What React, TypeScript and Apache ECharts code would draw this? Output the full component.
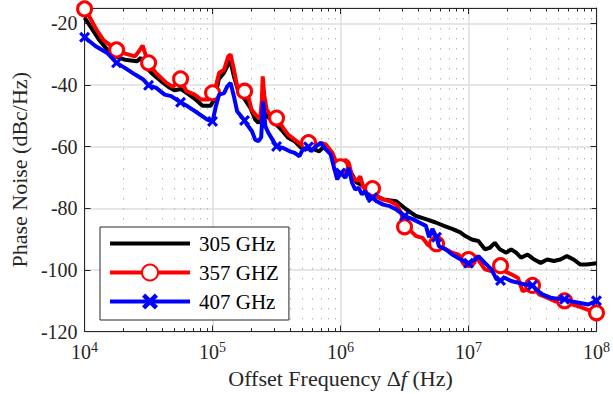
import React, { useEffect, useRef } from "react";
import * as echarts from "echarts";

// [log10(offset frequency / Hz), phase noise dBc/Hz]
const trace305: [number, number][] = [
  [4.0, -18.1], [4.113, -25.3], [4.177, -28.5], [4.241, -30.7], [4.318, -31.8], [4.408, -32.3],
  [4.441, -31.2], [4.485, -34.5], [4.536, -36.6], [4.6, -38.8], [4.656, -40.6], [4.702, -41.7],
  [4.754, -41.3], [4.805, -42.8], [4.869, -44.7], [4.921, -46.7], [4.985, -46.7], [5.015, -44.5],
  [5.05, -38], [5.09, -36], [5.128, -32.8], [5.14, -32.3], [5.167, -37.2], [5.205, -42.6],
  [5.244, -44.2], [5.295, -47.4], [5.333, -51.2], [5.359, -52.3], [5.381, -51], [5.395, -42],
  [5.408, -48], [5.423, -50.1], [5.475, -51.8], [5.538, -54.5], [5.59, -57.1], [5.641, -58.2],
  [5.692, -60.4], [5.744, -59.9], [5.795, -60.9], [5.833, -61.5], [5.872, -59.9], [5.91, -61.5],
  [5.948, -64.2], [6.0, -67], [6.038, -66], [6.077, -68], [6.123, -71.5], [6.169, -72.5],
  [6.215, -74.5], [6.256, -75.5], [6.333, -77.1], [6.436, -77.7], [6.513, -80.3], [6.59, -82.5],
  [6.667, -83.5], [6.744, -84.6], [6.808, -85.7], [6.872, -86.7], [6.936, -87.8], [6.975, -89],
  [7.026, -90.1], [7.077, -90.6], [7.128, -93.3], [7.167, -92.8], [7.205, -91.2], [7.244, -93.3],
  [7.295, -94.4], [7.333, -93.3], [7.372, -94.4], [7.41, -96], [7.462, -95], [7.513, -96.6],
  [7.564, -97.7], [7.615, -96.6], [7.667, -97.1], [7.718, -96.6], [7.769, -95.5], [7.821, -96.6],
  [7.872, -98.2], [7.923, -98.2], [8.0, -97.8],
];

const trace357: [number, number][] = [
  [4.0, -15.3], [4.04, -18], [4.1, -22.5], [4.15, -25.5], [4.25, -28.6], [4.318, -29.8],
  [4.395, -30.7], [4.433, -28.5], [4.454, -27.2], [4.472, -29.6], [4.5, -32.8], [4.56, -36.2],
  [4.64, -39.3], [4.69, -40.6], [4.75, -38], [4.795, -42], [4.86, -43.1], [4.91, -44.7],
  [4.97, -44.7], [5.0, -42.5], [5.026, -40.4], [5.051, -36.1], [5.09, -35], [5.123, -30.7],
  [5.141, -30.1], [5.167, -35], [5.192, -40.4], [5.25, -42], [5.279, -43.7], [5.305, -48],
  [5.346, -50.1], [5.372, -50.7], [5.385, -45], [5.392, -37.2], [5.405, -43.7], [5.423, -48],
  [5.449, -49.6], [5.5, -50.7], [5.552, -53.9], [5.59, -56.1], [5.641, -57.7], [5.692, -59.3],
  [5.75, -58.7], [5.795, -59.9], [5.846, -58.8], [5.885, -59.3], [5.936, -62], [5.974, -65.8],
  [6.0, -66.5], [6.038, -64.2], [6.064, -65.2], [6.09, -69.6], [6.128, -71.2], [6.154, -69.6],
  [6.179, -73.3], [6.218, -73.9], [6.25, -73.6], [6.282, -76.1], [6.333, -77.1], [6.385, -77.7],
  [6.436, -78.8], [6.474, -81.5], [6.5, -86], [6.538, -86.9], [6.59, -89], [6.641, -89.6],
  [6.679, -91.7], [6.718, -92.8], [6.75, -91.5], [6.782, -92.3], [6.821, -93.3], [6.872, -94.4],
  [6.923, -95], [6.962, -97.7], [7.0, -96.6], [7.051, -95.5], [7.09, -97.5], [7.128, -99.8],
  [7.179, -100.4], [7.25, -98.6], [7.282, -100.4], [7.333, -101.4], [7.385, -102.5], [7.423, -106.9],
  [7.462, -106.3], [7.5, -105], [7.551, -107.9], [7.615, -109], [7.679, -110.2], [7.75, -110],
  [7.795, -111], [7.872, -112], [7.923, -112.8], [8.0, -113.9],
];

const trace407: [number, number][] = [
  [4.0, -24.5], [4.087, -27.4], [4.177, -29.6], [4.25, -32.8], [4.318, -34.5], [4.395, -36.6],
  [4.459, -38.2], [4.5, -40.1], [4.56, -40.9], [4.626, -43.1], [4.677, -43.6], [4.75, -45.6],
  [4.805, -46.9], [4.882, -49], [4.959, -51.2], [5.0, -51.8], [5.026, -46.9], [5.051, -43.1],
  [5.09, -42.6], [5.115, -40.4], [5.141, -39.3], [5.167, -43.7], [5.192, -48.5], [5.25, -51.5],
  [5.269, -52.8], [5.308, -55], [5.333, -57.7], [5.359, -58.2], [5.38, -57], [5.395, -45.3],
  [5.413, -53.4], [5.436, -55.5], [5.475, -58.2], [5.5, -59.9], [5.551, -60.4], [5.603, -61.5],
  [5.641, -62], [5.679, -63.1], [5.705, -60.9], [5.75, -60], [5.769, -61.5], [5.808, -59.9],
  [5.846, -58.8], [5.885, -60.9], [5.923, -62.5], [5.946, -66.3], [5.974, -70.6], [6.0, -68.5],
  [6.038, -70.1], [6.064, -66.9], [6.09, -71.7], [6.115, -73.9], [6.141, -73.3], [6.167, -75.5],
  [6.192, -74.4], [6.218, -77.1], [6.25, -76.6], [6.282, -77.7], [6.333, -78.8], [6.385, -79.3],
  [6.436, -80.4], [6.487, -82], [6.5, -82.5], [6.564, -83.5], [6.615, -84.6], [6.667, -85.7],
  [6.692, -89.4], [6.718, -86.7], [6.75, -89.4], [6.769, -92.3], [6.821, -93.3], [6.872, -95],
  [6.923, -96.2], [6.962, -97.1], [7.0, -97.8], [7.051, -96.6], [7.077, -95.5], [7.128, -97.7],
  [7.179, -99.8], [7.218, -103], [7.25, -103.4], [7.282, -102.5], [7.333, -103.6], [7.385, -104.1],
  [7.436, -104.7], [7.5, -105], [7.526, -106.3], [7.577, -107.9], [7.641, -109], [7.692, -109.3],
  [7.75, -109.5], [7.808, -110.2], [7.872, -110.7], [7.936, -111.2], [8.0, -110],
];

const seriesNames = ["305 GHz", "357 GHZ", "407 GHz"];
const minorFreqs = [
  2e4, 3e4, 4e4, 5e4, 6e4, 7e4, 8e4, 9e4,
  2e5, 3e5, 4e5, 5e5, 6e5, 7e5, 8e5, 9e5,
  2e6, 3e6, 4e6, 5e6, 6e6, 7e6, 8e6, 9e6,
  2e7, 3e7, 4e7, 5e7, 6e7, 7e7, 8e7, 9e7,
];

const FONT = "'Liberation Serif', 'Times New Roman', serif";
const TXT = "#262626";
const CROSS =
  "path://M0,2 L2,0 L5,3 L8,0 L10,2 L7,5 L10,8 L8,10 L5,7 L2,10 L0,8 L3,5 Z";

const isMarker = (lf: number) => Math.abs(lf * 4 - Math.round(lf * 4)) < 1e-6;

function toData(trace: [number, number][], withMarkers: boolean) {
  return trace.map(([lf, v]) => {
    const item: any = { value: [Math.pow(10, lf), v] };
    if (!withMarkers || !isMarker(lf)) item.symbol = "none";
    return item;
  });
}

export default function App() {
  const ref = useRef<HTMLDivElement>(null);
  useEffect(() => {
    if (!ref.current) return;
    const chart = echarts.init(ref.current, null, { renderer: "svg" });
    const xAxisCommon: any = {
      type: "log",
      logBase: 10,
      min: 1e4,
      max: 1e8,
      axisLine: { show: true, onZero: false, lineStyle: { color: TXT, width: 1 } },
      axisTick: { show: true, inside: true, length: 6, lineStyle: { color: TXT } },
      minorTick: { show: false },
    };
    const yAxisCommon: any = {
      type: "value",
      min: -120,
      max: -15,
      interval: 20,
      axisLine: { show: true, onZero: false, lineStyle: { color: TXT, width: 1 } },
      axisTick: { show: true, inside: true, length: 6, lineStyle: { color: TXT } },
    };
    chart.setOption({
      animation: false,
      backgroundColor: "#fff",
      grid: { left: 80, right: 13, top: 8, bottom: 62, containLabel: false },
      xAxis: [
        {
          ...xAxisCommon,
          position: "bottom",
          name: "Offset Frequency Δ{i|f} (Hz)",
          nameLocation: "middle",
          nameGap: 33,
          nameTextStyle: {
            fontFamily: FONT,
            fontSize: 22,
            color: TXT,
            rich: { i: { fontFamily: FONT, fontSize: 22, fontStyle: "italic", color: TXT } },
          },
          splitLine: { show: true, lineStyle: { color: "#dedede", width: 1.5 } },
          axisLabel: {
            margin: 9,
            formatter: (v: number) => `{a|10}{b|${Math.round(Math.log10(v))}}`,
            rich: {
              a: { fontFamily: FONT, fontSize: 20, color: TXT },
              b: { fontFamily: FONT, fontSize: 14, color: TXT, padding: [0, 0, 9, 0] },
            },
          },
        },
        {
          ...xAxisCommon,
          position: "top",
          axisLabel: { show: false },
          splitLine: { show: false },
        },
      ],
      yAxis: [
        {
          ...yAxisCommon,
          position: "left",
          name: "Phase Noise (dBc/Hz)",
          nameLocation: "middle",
          nameGap: 48,
          nameTextStyle: { fontFamily: FONT, fontSize: 22, color: TXT },
          splitLine: { show: true, lineStyle: { color: "#dedede", width: 1.5 } },
          axisLabel: {
            fontFamily: FONT,
            fontSize: 20,
            color: TXT,
            margin: 7,
            showMaxLabel: false,
          },
        },
        {
          ...yAxisCommon,
          position: "right",
          axisLabel: { show: false },
          splitLine: { show: false },
        },
      ],
      legend: {
        orient: "vertical",
        left: 100,
        top: 227,
        padding: [6, 10, 8, 8],
        itemWidth: 80,
        itemHeight: 20,
        itemGap: 8,
        backgroundColor: "#fff",
        borderColor: TXT,
        borderWidth: 1,
        borderRadius: 0,
        lineStyle: { width: 4 },
        textStyle: { fontFamily: FONT, fontSize: 21, color: "#000", padding: [0, 0, 0, 4] },
        data: [
          { name: seriesNames[0], itemStyle: { opacity: 0 } },
          { name: seriesNames[1] },
          { name: seriesNames[2] },
        ],
      },
      series: [
        {
          type: "custom",
          name: "minor grid",
          xAxisIndex: 0,
          yAxisIndex: 0,
          silent: true,
          z: 1,
          data: minorFreqs.map((f) => [f, -120]),
          encode: { x: 0, y: 1 },
          renderItem: (params: any, api: any) => {
            const cs = params.coordSys;
            const x = Math.round(api.coord([api.value(0), api.value(1)])[0]) + 0.5;
            const top = cs.y;
            const bottom = cs.y + cs.height;
            return {
              type: "group",
              children: [
                {
                  type: "line",
                  shape: { x1: x, y1: top, x2: x, y2: bottom },
                  style: { stroke: "#b8b8b8", lineWidth: 1, lineDash: [1.5, 8.5] },
                },
                {
                  type: "line",
                  shape: { x1: x, y1: bottom, x2: x, y2: bottom - 3.5 },
                  style: { stroke: TXT, lineWidth: 1 },
                },
                {
                  type: "line",
                  shape: { x1: x, y1: top, x2: x, y2: top + 3.5 },
                  style: { stroke: TXT, lineWidth: 1 },
                },
              ],
            };
          },
        },
        {
          type: "line",
          name: seriesNames[0],
          data: toData(trace305, false),
          symbol: "none",
          showSymbol: false,
          lineStyle: { color: "#000", width: 4 },
          itemStyle: { color: "#000" },
          z: 3,
        },
        {
          type: "line",
          name: seriesNames[1],
          data: toData(trace357, true),
          symbol: "circle",
          symbolSize: 14,
          showSymbol: true,
          showAllSymbol: true,
          lineStyle: { color: "#ff0000", width: 4 },
          itemStyle: { color: "#fff", borderColor: "#ff0000", borderWidth: 3 },
          z: 4,
        },
        {
          type: "line",
          name: seriesNames[2],
          data: toData(trace407, true),
          symbol: CROSS,
          symbolSize: 11,
          showSymbol: true,
          showAllSymbol: true,
          lineStyle: { color: "#0000ff", width: 4 },
          itemStyle: { color: "#0000ff", borderWidth: 0 },
          z: 5,
        },
      ],
    });
    return () => chart.dispose();
  }, []);
  return (
    <div
      ref={ref}
      style={{ position: "absolute", left: 0, top: 0, width: 613, height: 394 }}
    />
  );
}
